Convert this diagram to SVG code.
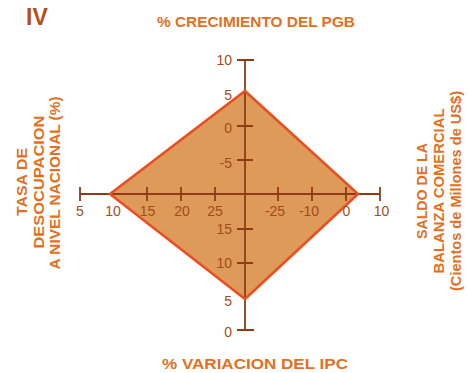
<svg xmlns="http://www.w3.org/2000/svg" width="469" height="373" viewBox="0 0 469 373">
<style>
.title{font-family:"Liberation Sans",Arial,sans-serif;font-weight:bold;fill:#E2701F;}
.num{font-family:"Liberation Sans",Arial,sans-serif;font-size:14px;fill:#A24C1C;}
.axis{stroke:#8E3C18;stroke-width:1.8;fill:none;}
.poly{fill:#DE9A58;stroke:none;}
.edge{fill:none;stroke:#EA4F22;stroke-width:2.6;stroke-linejoin:miter;}
</style>
<rect width="469" height="373" fill="#FFFFFF"/>
<g id="titles">
<text class="title" x="26" y="25" font-size="23" fill="#B4501C" style="fill:#B4501C">IV</text>
<text class="title" x="256" y="27" font-size="15.5" text-anchor="middle" textLength="198" lengthAdjust="spacingAndGlyphs">% CRECIMIENTO DEL PGB</text>
<text class="title" x="255" y="369" font-size="15.5" text-anchor="middle" textLength="186" lengthAdjust="spacingAndGlyphs">% VARIACION DEL IPC</text>
</g>
<g id="left-label" transform="translate(0,182) rotate(-90)">
<text class="title" x="0" y="27" font-size="15.5" text-anchor="middle" textLength="68" lengthAdjust="spacingAndGlyphs">TASA DE</text>
<text class="title" x="0" y="43.5" font-size="15.5" text-anchor="middle" textLength="133" lengthAdjust="spacingAndGlyphs">DESOCUPACION</text>
<text class="title" x="-1" y="60" font-size="15.5" text-anchor="middle" textLength="173" lengthAdjust="spacingAndGlyphs">A NIVEL NACIONAL (%)</text>
</g>
<g id="right-label" transform="translate(0,191) rotate(-90)">
<text class="title" x="0" y="427" font-size="15.5" text-anchor="middle" textLength="96" lengthAdjust="spacingAndGlyphs">SALDO DE LA</text>
<text class="title" x="0" y="444" font-size="15.5" text-anchor="middle" textLength="165" lengthAdjust="spacingAndGlyphs">BALANZA COMERCIAL</text>
<text class="title" x="0" y="461" font-size="15.5" text-anchor="middle" textLength="200" lengthAdjust="spacingAndGlyphs">(Cientos de Millones de US$)</text>
</g>
<g id="diamond-fill">
<polygon class="poly" points="245,91 358,194 245,299 110,194"/>
</g>
<g id="connectors">
<line class="axis" x1="80" y1="194" x2="380" y2="194"/>
<line class="axis" x1="245" y1="60" x2="245" y2="330"/>
<path class="axis" d="M80,187V201 M147,187V201 M181,187V201 M215,187V201 M278,187V201 M312,187V201 M346,187V201 M380,187V201"/>
<path class="axis" d="M237,60H254 M237,126H253 M237,160H253 M237,229H253 M237,263H253 M237,330H254"/>
</g>
<g id="diamond">
<polygon class="edge" points="245,91 358,194 245,299 110,194"/>
</g>
<g id="vertical-labels">
<text class="num" x="232" y="65" text-anchor="end">10</text>
<text class="num" x="232" y="100" text-anchor="end">5</text>
<text class="num" x="232" y="133" text-anchor="end">0</text>
<text class="num" x="232" y="168" text-anchor="end">-5</text>
<text class="num" x="232" y="233.5" text-anchor="end">15</text>
<text class="num" x="232" y="268" text-anchor="end">10</text>
<text class="num" x="232" y="306" text-anchor="end">5</text>
<text class="num" x="232" y="337" text-anchor="end">0</text>
</g>
<g id="horizontal-labels">
<text class="num" x="80" y="216" text-anchor="middle">5</text>
<text class="num" x="113" y="216" text-anchor="middle">10</text>
<text class="num" x="147.5" y="216" text-anchor="middle">15</text>
<text class="num" x="182" y="216" text-anchor="middle">20</text>
<text class="num" x="215" y="216" text-anchor="middle">25</text>
<text class="num" x="275" y="216" text-anchor="middle">-25</text>
<text class="num" x="309" y="216" text-anchor="middle">-10</text>
<text class="num" x="346.5" y="216" text-anchor="middle">0</text>
<text class="num" x="381.5" y="216" text-anchor="middle">10</text>
</g>
</svg>
